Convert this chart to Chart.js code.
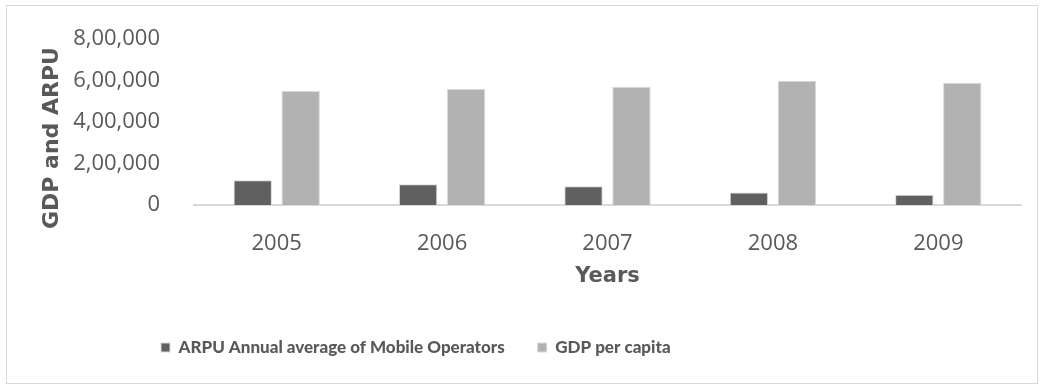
<!DOCTYPE html>
<html>
<head>
<meta charset="utf-8">
<script src="https://cdn.jsdelivr.net/npm/chart.js@4/dist/chart.umd.min.js"></script>
<style>
  body { margin: 0; background: #fff; }
  #wrap { position: relative; width: 1042px; height: 385px; }
  #frame { position: absolute; left: 6px; top: 5px; width: 1030px; height: 377px; border: 1px solid #d9d9d9; pointer-events: none; }
</style>
</head>
<body>
<div id="wrap">
  <canvas id="chart"></canvas>
  <div id="frame"></div>
</div>
<script>
var years = ['2005', '2006', '2007', '2008', '2009'];
var arpu = [120000, 100000, 90000, 60000, 50000];
var gdp = [550000, 560000, 570000, 600000, 590000];
var yTicks = [0, 200000, 400000, 600000, 800000];

var textColor = '#595959';

// lakh style grouping: 8,00,000
function indianFormat(v) {
  var s = String(Math.round(v));
  if (s.length <= 3) return s;
  var last3 = s.slice(-3);
  var rest = s.slice(0, -3).replace(/\B(?=(\d{2})+(?!\d))/g, ',');
  return rest + ',' + last3;
}

// rotated y axis title, placed by hand
const yTitle = {
  id: 'yTitle',
  afterDraw(chart) {
    const ctx = chart.ctx;
    ctx.save();
    ctx.translate(52, 138);
    ctx.rotate(-Math.PI / 2);
    ctx.font = 'bold 22px "DejaVu Sans"';
    ctx.fillStyle = textColor;
    ctx.textAlign = 'center';
    ctx.textBaseline = 'middle';
    ctx.fillText('GDP and ARPU', 0, 0);
    ctx.restore();
  }
};

// legend sits left of centre, starting under the first category
const legendShift = {
  id: 'legendShift',
  afterLayout(chart) {
    const w = chart.legend.right - chart.legend.left;
    chart.legend.left = 128;
    chart.legend.right = 128 + w;
  }
};

new Chart(document.getElementById('chart'), {
  type: 'bar',
  data: {
    labels: years,
    datasets: [
      { label: 'ARPU Annual average of Mobile Operators', data: arpu, backgroundColor: '#606060', borderColor: '#d9d9d9', borderWidth: 1 },
      { label: 'GDP per capita', data: gdp, backgroundColor: '#b2b2b2', borderColor: '#d9d9d9', borderWidth: 1 },
    ],
  },
  options: {
    responsive: true,
    maintainAspectRatio: false,
    animation: false,
    categoryPercentage: 0.58,
    barPercentage: 0.8,
    layout: { padding: { left: 0, right: 21, top: 37, bottom: 19 } },
    scales: {
      x: {
        afterFit: function (scale) { scale.height = 101; },
        grid: { display: false },
        border: { display: true, color: '#d9d9d9', width: 2 },
        ticks: { color: textColor, font: { family: 'Open Sans', size: 22 }, padding: 18 },
        title: { display: true, text: 'Years', color: textColor, font: { family: 'DejaVu Sans', size: 21, weight: 'bold' }, padding: { top: 0, bottom: 17 } },
      },
      y: {
        min: 0,
        max: 800000,
        afterBuildTicks: function (scale) { scale.ticks = yTicks.map(v => ({ value: v })); },
        afterFit: function (scale) { scale.width = 194; },
        grid: { display: false },
        border: { display: false },
        ticks: { color: textColor, font: { family: 'Open Sans', size: 22 }, padding: 26, callback: v => indianFormat(v) },
      },
    },
    plugins: {
      legend: {
        position: 'bottom',
        align: 'start',
        labels: {
          color: textColor,
          font: { family: 'Lato', size: 17, weight: 900 },
          boxWidth: 9,
          boxHeight: 9,
          padding: 33,
        },
      },
      tooltip: { enabled: false },
    },
  },
  plugins: [yTitle, legendShift],
});
</script>
</body>
</html>
